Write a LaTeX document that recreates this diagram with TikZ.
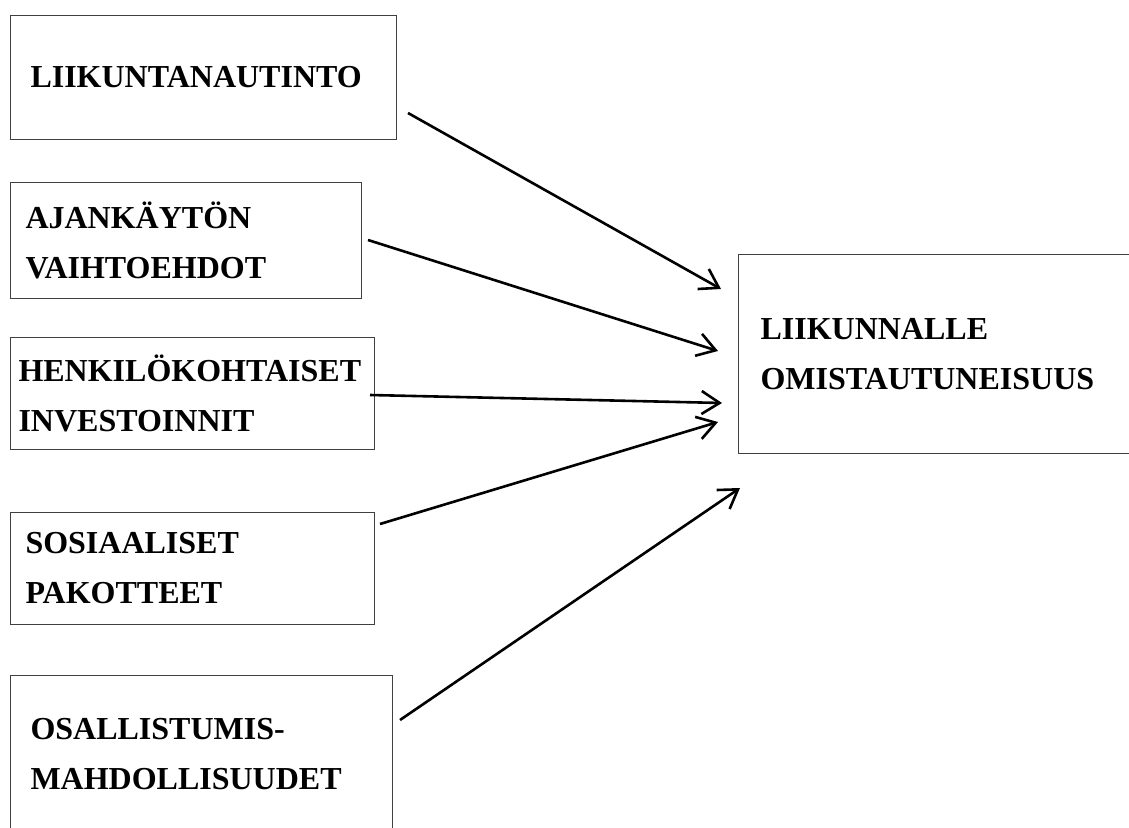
\documentclass[tikz,border=0pt]{standalone}
\usepackage{fontspec}
\setmainfont{Liberation Serif}
\usetikzlibrary{arrows.meta}

\tikzset{
  factor/.style={draw=black!75, line width=0.5pt, anchor=north west, align=left,
    inner xsep=10pt, inner ysep=0pt, font=\bfseries\fontsize{16}{25}\selectfont},
  link/.style={line width=1.3pt, -{Straight Barb[length=9pt,width=11.5pt,line width=1.3pt]}}
}

\begin{document}
\begin{tikzpicture}[x=0.5pt, y=-0.5pt]
  \useasboundingbox (0,0) rectangle (1129,828);
  \clip (0,0) rectangle (1129,828);
  % factors on the left
  \node[factor, text width=173pt, minimum height=62pt] (nautinto) at (10,15) {LIIKUNTANAUTINTO};
  \node[factor, inner xsep=7.5pt, text width=160.5pt, minimum height=58pt] (ajankaytto) at (10,182) {AJANKÄYTÖN\\ VAIHTOEHDOT};
  \node[factor, inner xsep=4pt, text width=174pt, minimum height=56pt] (investoinnit) at (10,337) {HENKILÖKOHTAISET\\ INVESTOINNIT};
  \node[factor, inner xsep=7.5pt, text width=167pt, minimum height=56pt] (pakotteet) at (10,512) {SOSIAALISET\\ PAKOTTEET};
  \node[factor, text width=171pt, minimum height=79pt] (mahdollisuudet) at (10,675) {OSALLISTUMIS-\\ MAHDOLLISUUDET};
  % outcome
  \node[factor, inner xsep=11pt, text width=190pt, minimum height=99.5pt] (omistautuneisuus) at (738,254) {LIIKUNNALLE\\ OMISTAUTUNEISUUS};
  % arrow ends
  \coordinate (s1) at (408,113); \coordinate (e1) at (721,289);
  \coordinate (s2) at (368,240); \coordinate (e2) at (718,351);
  \coordinate (s3) at (370,395); \coordinate (e3) at (722,403);
  \coordinate (s4) at (380,524); \coordinate (e4) at (718,422);
  \coordinate (s5) at (400,720); \coordinate (e5) at (740,488);
  \foreach \i in {1,...,5}
    \draw[link] (s\i) -- (e\i);
\end{tikzpicture}
\end{document}
